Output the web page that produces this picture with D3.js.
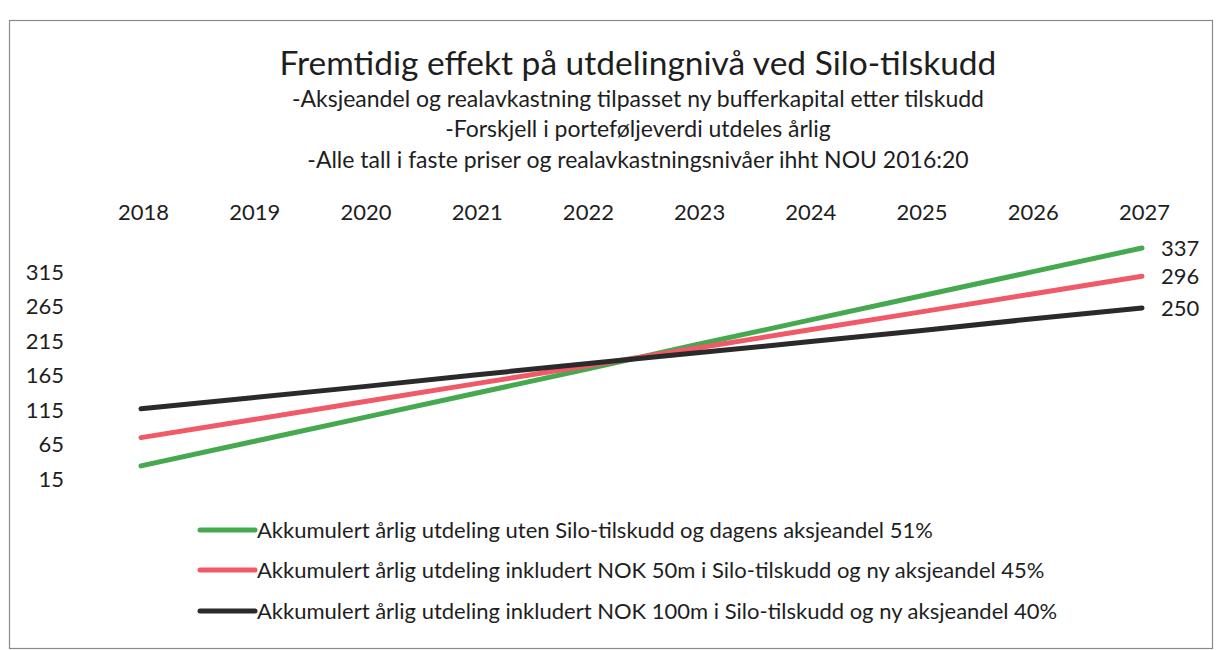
<!DOCTYPE html>
<html>
<head>
<meta charset="utf-8">
<script src="https://cdn.jsdelivr.net/npm/d3@7"></script>
<style>
  body { margin: 0; background: #fff; }
  text { font-family: Lato, 'Open Sans', sans-serif; fill: #1e1e1e; }
</style>
</head>
<body>
<svg id="chart"></svg>
<script>
const years = ['2018', '2019', '2020', '2021', '2022', '2023', '2024', '2025', '2026', '2027'];
const utenTilskudd = [21, 56, 91, 126, 161, 197, 232, 267, 302, 337];
const tilskudd50 = [62, 88, 114, 140, 166, 192, 218, 244, 270, 296];
const tilskudd100 = [104, 120, 136, 153, 169, 185, 201, 217, 234, 250];
const yTicks = [15, 65, 115, 165, 215, 265, 315];
const seriesNames = [
  'Akkumulert årlig utdeling uten Silo-tilskudd og dagens aksjeandel 51%',
  'Akkumulert årlig utdeling inkludert NOK 50m i Silo-tilskudd og ny aksjeandel 45%',
  'Akkumulert årlig utdeling inkludert NOK 100m i Silo-tilskudd og ny aksjeandel 40%'
];
const colors = ['#45a94f', '#f05a68', '#2a2a2a'];

const [width, height] = [1218, 650];

let svg = d3.select('#chart')
  .attr('width', width)
  .attr('height', height)

// ramme
svg.append('rect')
  .attr('x', 9.5)
  .attr('y', 20.5)
  .attr('width', 1203)
  .attr('height', 628)
  .attr('fill', '#fff')
  .attr('stroke', '#8a8a8a')
  .attr('stroke-width', 1.2)

// titler
let titles = [
  { t: 'Fremtidig effekt på utdelingnivå ved Silo-tilskudd', y: 75, size: 33.5 },
  { t: '-Aksjeandel og realavkastning tilpasset ny bufferkapital etter tilskudd', y: 107, size: 23 },
  { t: '-Forskjell i porteføljeverdi utdeles årlig', y: 137, size: 23 },
  { t: '-Alle tall i faste priser og realavkastningsnivåer ihht NOU 2016:20', y: 168, size: 23 }
]
svg.append('g')
  .selectAll('text')
  .data(titles)
  .enter()
  .append('text')
  .attr('x', 638)
  .attr('y', d => d.y)
  .attr('text-anchor', 'middle')
  .style('font-size', d => d.size + 'px')
  .text(d => d.t)

let x = d3.scalePoint()
  .domain(years)
  .range([141, 1142])

let y = d3.scaleLinear()
  .domain([250, 337])
  .range([308, 248])

// x-akse øverst
let xAxis = svg.append('g')
  .attr('transform', 'translate(2, 212)')
  .call(d3.axisTop(x).tickSize(0).tickPadding(0))
xAxis.select('.domain').remove()
xAxis.selectAll('text')
  .attr('dy', '0.35em')
  .style('font-size', '22px')
  .style('font-family', 'Lato, sans-serif')
  .attr('fill', '#1e1e1e')

// y-akse (etikettene står litt under sine verdier i originalen)
let yAxis = svg.append('g')
  .attr('transform', 'translate(64, 9)')
  .call(d3.axisLeft(y).tickValues(yTicks).tickSize(0).tickPadding(0))
yAxis.select('.domain').remove()
yAxis.selectAll('text')
  .style('font-size', '22px')
  .style('font-family', 'Lato, sans-serif')
  .attr('fill', '#1e1e1e')

let series = [utenTilskudd, tilskudd50, tilskudd100]

let line = d3.line()
  .x((d, i) => x(years[i]))
  .y(d => y(d))

svg.append('g')
  .selectAll('path')
  .data(series)
  .enter()
  .append('path')
  .attr('d', line)
  .attr('fill', 'none')
  .attr('stroke', (d, i) => colors[i])
  .attr('stroke-width', 5)
  .attr('stroke-linecap', 'round')

// verdier ved siste år
svg.append('g')
  .selectAll('text')
  .data(series)
  .enter()
  .append('text')
  .attr('x', 1161)
  .attr('y', d => y(d[d.length - 1]))
  .attr('dy', '0.35em')
  .style('font-size', '22px')
  .text(d => d[d.length - 1])

// forklaring
let legend = svg.append('g')
  .selectAll('g')
  .data(seriesNames)
  .enter()
  .append('g')
  .attr('transform', (d, i) => 'translate(200,' + [530, 570, 611][i] + ')')

legend.append('line')
  .attr('x1', 0)
  .attr('x2', 55)
  .attr('stroke', (d, i) => colors[i])
  .attr('stroke-width', 5)
  .attr('stroke-linecap', 'round')

legend.append('text')
  .attr('x', 57)
  .attr('dy', '0.35em')
  .style('font-size', '22px')
  .text(d => d)
</script>
</body>
</html>
